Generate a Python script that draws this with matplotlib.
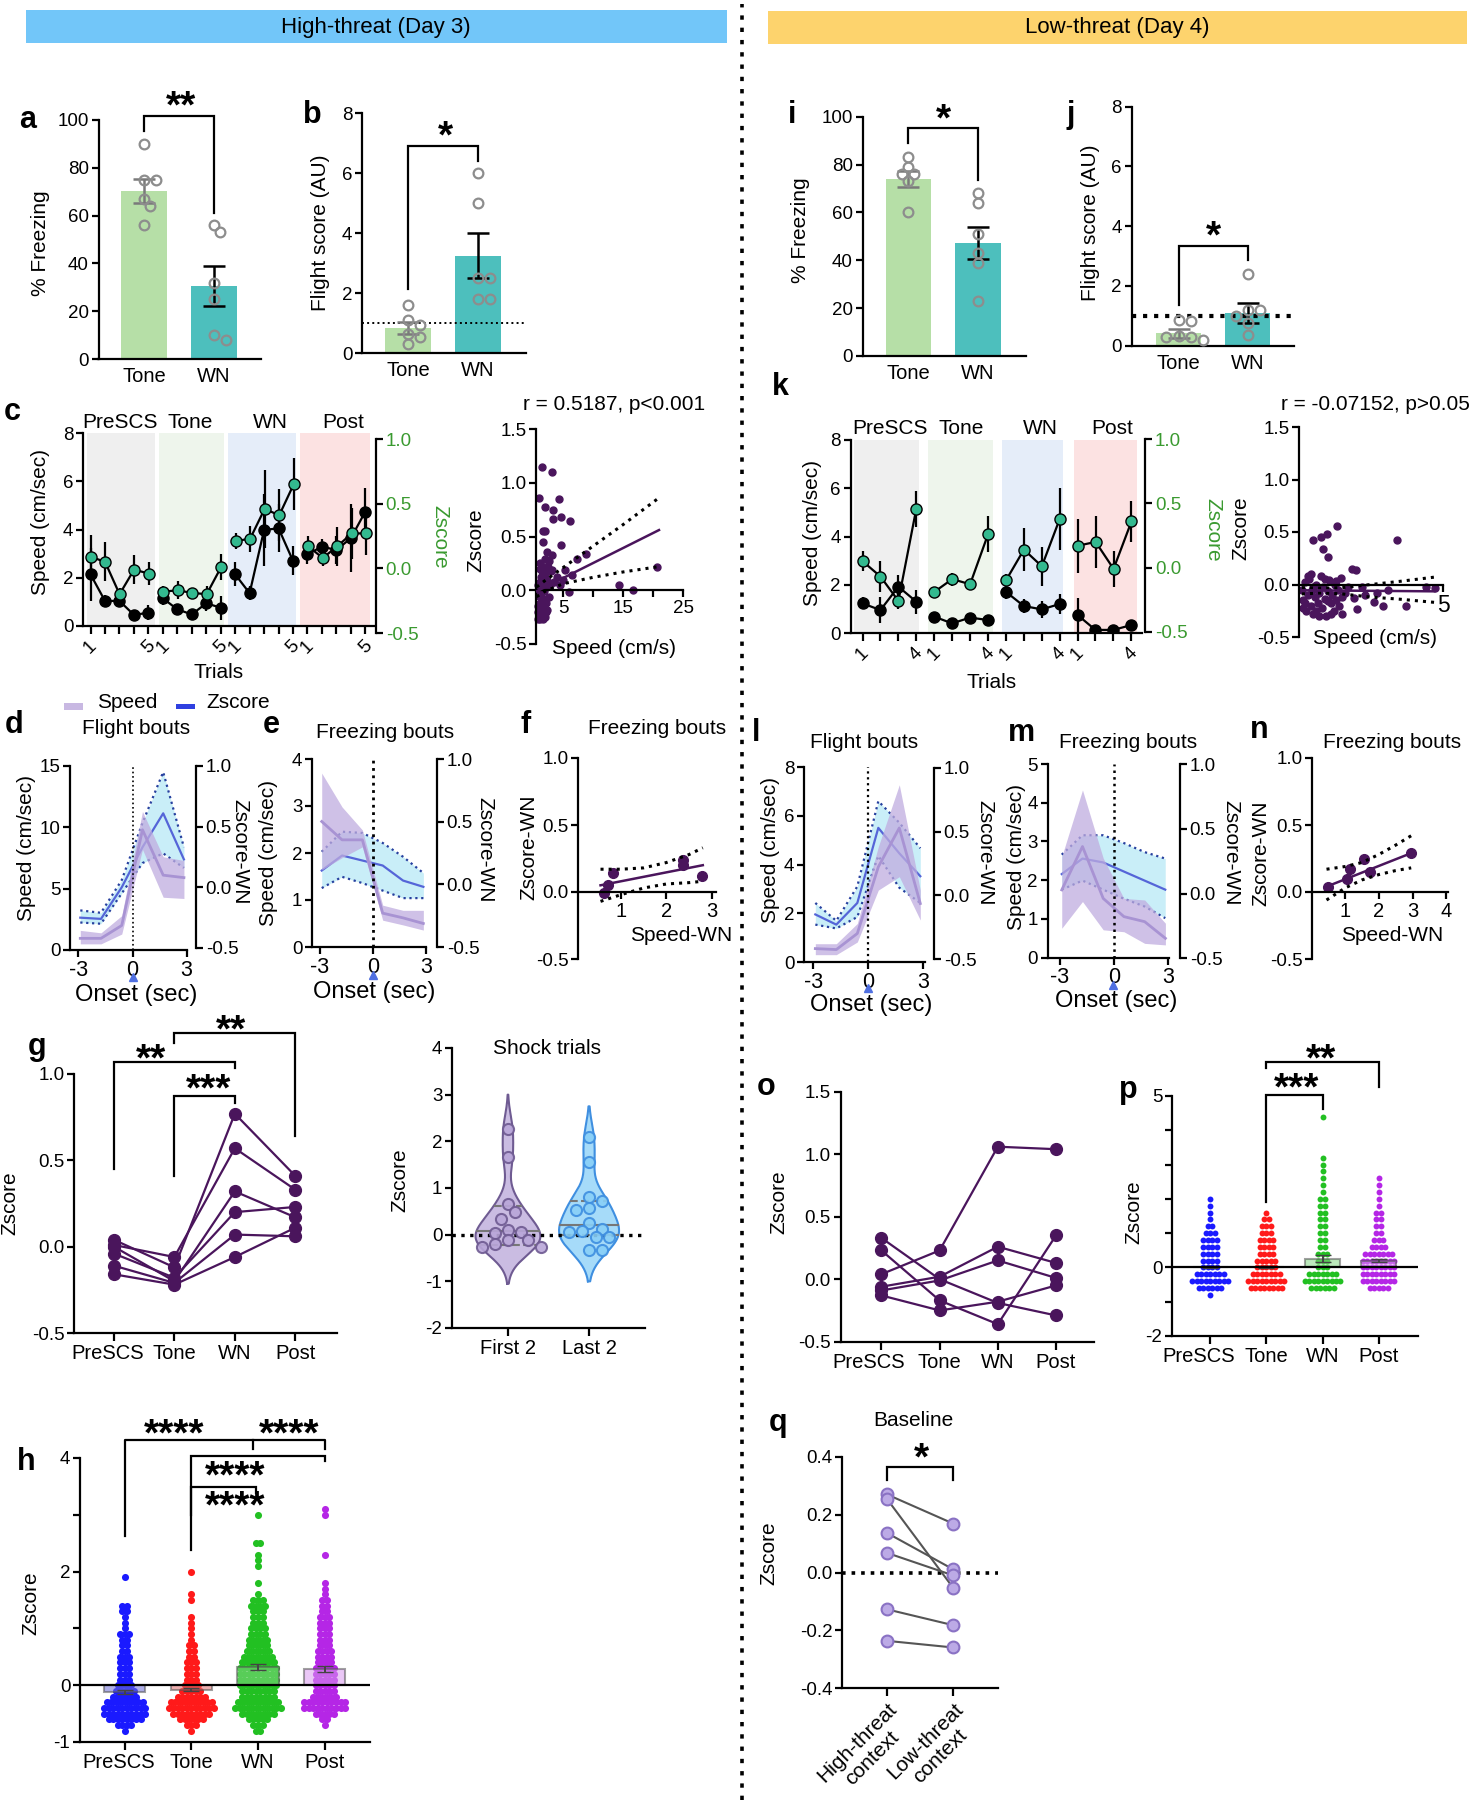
import numpy as np
import matplotlib
matplotlib.use('Agg')
import matplotlib.pyplot as plt
from matplotlib.patches import Rectangle
from matplotlib.lines import Line2D
import matplotlib.transforms as mtransforms

plt.rcParams['font.family'] = ['Liberation Sans', 'DejaVu Sans']
plt.rcParams['axes.unicode_minus'] = False

# ---------------- data ----------------
cats2 = ['Tone', 'WN']
cats4 = ['PreSCS', 'Tone', 'WN', 'Post']

# a / b  (high threat)
a_tone = [90, 75, 75, 67, 64, 56]
a_wn = [56, 53, 32, 25, 10, 8]
a_mean = [70.2, 30.5]
a_sem = [5.0, 8.3]
b_tone = [1.6, 1.1, 0.95, 0.65, 0.55, 0.3]
b_wn = [6.0, 5.0, 2.5, 2.5, 1.8, 1.8]
b_mean = [0.85, 3.25]
b_sem = [0.2, 0.75]

# i / j  (low threat)
i_tone = [83, 79, 76, 76, 73, 60]
i_wn = [68, 64, 51, 43, 39, 23]
i_mean = [74.0, 47.3]
i_sem = [3.3, 6.8]
j_tone = [0.85, 0.82, 0.32, 0.30, 0.28, 0.20]
j_wn = [2.39, 1.2, 1.2, 1.0, 0.75, 0.35]
j_mean = [0.41, 1.1]
j_sem = [0.15, 0.33]

# c : trials (5 per phase)
c_speed = [2.14, 1.04, 1.04, 0.46, 0.55, 1.15, 0.69, 0.48, 0.94, 0.76,
           2.14, 1.36, 3.98, 4.05, 2.70, 2.97, 3.29, 3.15, 3.64, 4.74]
c_speed_err = [1.1, 0.25, 0.25, 0.2, 0.3, 0.3, 0.2, 0.15, 0.3, 0.5,
               0.5, 0.3, 1.5, 1.0, 0.6, 0.4, 0.3, 0.6, 1.4, 1.0]
c_z = [0.09, 0.05, -0.20, -0.01, -0.04, -0.18, -0.17, -0.19, -0.20, 0.01,
       0.21, 0.23, 0.46, 0.41, 0.65, 0.17, 0.08, 0.17, 0.27, 0.27]
c_z_err = [0.17, 0.15, 0.05, 0.11, 0.09, 0.04, 0.07, 0.04, 0.06, 0.1,
           0.06, 0.1, 0.3, 0.2, 0.2, 0.08, 0.06, 0.15, 0.2, 0.17]

# k : trials (4 per phase)
k_speed = [1.24, 0.96, 1.93, 1.31, 0.69, 0.41, 0.65, 0.55,
           1.72, 1.13, 0.99, 1.21, 0.76, 0.14, 0.14, 0.34]
k_speed_err = [0.25, 0.55, 0.5, 0.5, 0.15, 0.1, 0.15, 0.1,
               0.3, 0.3, 0.35, 0.4, 0.7, 0.1, 0.1, 0.1]
k_z = [0.05, -0.07, -0.26, 0.46, -0.19, -0.09, -0.13, 0.26,
       -0.10, 0.14, 0.01, 0.38, 0.17, 0.20, -0.01, 0.36]
k_z_err = [0.08, 0.12, 0.06, 0.14, 0.04, 0.05, 0.04, 0.14,
           0.05, 0.17, 0.15, 0.24, 0.21, 0.2, 0.14, 0.16]

# c / k correlation scatter
c_sc_x = [1.45, 3.2, 1.05, 4.4, 2.0, 3.3, 4.6, 3.3, 6.2, 1.6, 2.0, 4.6, 1.6, 2.4, 3.2, 1.2, 2.0,
          7.3, 8.9, 3.2, 5.3, 6.5, 14.3, 16.7, 20.7, 6.0, 4.0, 4.5, 5.0, 2.7,
          0.9, 1.0, 1.1, 1.2, 1.3, 1.4, 1.5, 1.6, 1.8, 2.0, 2.2, 0.9, 1.1, 1.3, 1.5, 1.7,
          1.9, 2.1, 2.4, 1.0, 1.2, 1.4, 1.6, 1.8, 2.2, 2.6, 1.1, 1.3, 1.7, 2.0, 2.3, 2.8,
          3.0, 3.5, 1.2, 1.5, 2.5, 0.8, 0.8, 1.9]
c_sc_y = [1.15, 1.10, 0.86, 0.85, 0.77, 0.75, 0.68, 0.66, 0.645, 0.55, 0.55, 0.42, 0.45, 0.36, 0.33,
          0.25, 0.29, 0.29, 0.34, 0.19, 0.19, 0.14, 0.05, 0.0, 0.22, -0.02, 0.12, 0.05, 0.1, 0.27,
          -0.27, -0.25, -0.27, -0.22, -0.26, -0.20, -0.24, -0.27, -0.22, -0.25, -0.20, -0.15,
          -0.12, -0.17, -0.10, -0.14, -0.08, -0.12, -0.18, -0.05, 0.0, -0.03, 0.02, -0.01, 0.03,
          -0.06, 0.08, 0.12, 0.10, 0.15, 0.10, 0.05, 0.18, 0.08, 0.20, 0.18, 0.22, -0.20, 0.05, 0.22]
c_fit_x = [0.6, 21.0]
c_fit_y = [-0.01, 0.56]
c_ci_x = [0.6, 2, 5, 10, 15, 21]
c_ci_hi = [0.03, 0.09, 0.21, 0.41, 0.61, 0.86]
c_ci_lo = [-0.06, -0.01, 0.06, 0.12, 0.17, 0.22]

k_sc_x = [0.49, 0.75, 0.96, 1.32, 0.83, 0.99, 1.84, 1.98, 3.39, 4.71, 2.3, 2.6, 2.9, 3.1, 3.7, 4.4,
          2.0, 1.5, 2.2, 1.9, 2.7,
          0.1, 0.15, 0.2, 0.25, 0.3, 0.35, 0.4, 0.45, 0.5, 0.55, 0.6, 0.65, 0.7, 0.75, 0.8, 0.85,
          0.9, 0.95, 1.0, 1.05, 1.1, 1.15, 1.2, 1.25, 1.3, 1.35, 1.4, 1.45, 1.5, 1.6, 1.7, 0.2,
          0.3, 0.5, 0.6, 0.9, 1.1, 1.3, 0.4, 0.7, 1.0, 0.15]
k_sc_y = [0.42, 0.45, 0.48, 0.56, 0.34, 0.26, 0.15, 0.14, 0.42, -0.03, -0.10, -0.17, -0.20, -0.05,
          -0.20, -0.02, -0.23, -0.28, -0.02, -0.13, -0.08,
          -0.05, -0.15, 0.02, -0.25, -0.10, 0.05, -0.20, -0.05, -0.28, -0.12, 0.0, -0.18, -0.08,
          0.08, -0.22, -0.02, -0.14, -0.30, -0.06, 0.04, -0.18, -0.10, -0.25, 0.0, -0.15, -0.05,
          -0.20, 0.06, -0.12, -0.08, -0.02, -0.18, 0.08, -0.02, -0.25, 0.05, -0.28, 0.03, 0.10,
          -0.30, -0.16, -0.22]
k_fit_x = [0.1, 4.7]
k_fit_y = [-0.055, -0.065]
k_ci_x = [0.1, 0.8, 1.5, 2.5, 3.5, 4.7]
k_ci_hi = [-0.03, -0.035, -0.03, 0.0, 0.03, 0.07]
k_ci_lo = [-0.09, -0.08, -0.09, -0.12, -0.14, -0.17]

# d / e / l / m : peri-onset traces
bins = [-2.9, -1.75, -0.6, 0.55, 1.7, 2.85]
d_speed = [0.95, 0.95, 2.0, 9.8, 6.1, 5.9]
d_speed_lo = [0.5, 0.5, 1.3, 8.2, 4.3, 4.2]
d_speed_hi = [1.6, 1.4, 2.8, 11.3, 7.6, 7.3]
d_z = [-0.25, -0.26, 0.0, 0.33, 0.61, 0.23]
d_z_lo = [-0.29, -0.30, -0.05, 0.20, 0.28, 0.16]
d_z_hi = [-0.19, -0.21, 0.06, 0.53, 0.95, 0.33]

e_speed = [2.67, 2.28, 2.28, 0.72, 0.62, 0.5]
e_speed_lo = [1.64, 1.9, 2.13, 0.57, 0.47, 0.36]
e_speed_hi = [3.7, 2.98, 2.49, 0.89, 0.78, 0.78]
e_z = [0.11, 0.23, 0.19, 0.15, 0.03, -0.02]
e_z_lo = [-0.03, 0.06, 0.01, -0.05, -0.11, -0.11]
e_z_hi = [0.26, 0.42, 0.41, 0.33, 0.22, 0.09]

l_speed = [0.55, 0.51, 1.17, 3.9, 5.5, 2.4]
l_speed_lo = [0.3, 0.3, 0.82, 2.95, 3.5, 1.72]
l_speed_hi = [0.75, 0.75, 1.58, 4.73, 7.27, 2.95]
l_z = [-0.15, -0.23, -0.06, 0.53, 0.33, 0.15]
l_z_lo = [-0.23, -0.26, -0.17, 0.31, 0.06, -0.06]
l_z_hi = [-0.06, -0.2, 0.07, 0.74, 0.57, 0.37]

m_speed = [1.75, 2.87, 1.53, 1.06, 0.93, 0.5]
m_speed_lo = [0.76, 1.45, 0.72, 0.67, 0.37, 0.33]
m_speed_hi = [2.61, 4.33, 2.57, 1.53, 1.49, 0.89]
m_z = [0.15, 0.27, 0.24, 0.17, 0.10, 0.03]
m_z_lo = [0.03, 0.10, 0.03, -0.04, -0.10, -0.19]
m_z_hi = [0.30, 0.45, 0.45, 0.39, 0.32, 0.27]

# f / n : speed vs zscore (freezing bouts)
f_x = [0.62, 0.71, 0.82, 2.36, 2.36, 2.78]
f_y = [-0.01, 0.05, 0.14, 0.24, 0.20, 0.12]
f_fit_x = [0.55, 2.8]
f_fit_y = [0.05, 0.20]
f_ci_x = [0.55, 1.0, 1.5, 2.0, 2.5, 2.8]
f_ci_hi = [0.17, 0.17, 0.18, 0.22, 0.28, 0.33]
f_ci_lo = [-0.07, -0.02, 0.03, 0.06, 0.07, 0.08]

n_x = [0.48, 1.05, 1.15, 1.57, 1.75, 2.96]
n_y = [0.04, 0.10, 0.17, 0.25, 0.15, 0.29]
n_fit_x = [0.45, 2.96]
n_fit_y = [0.04, 0.29]
n_ci_x = [0.45, 1.0, 1.5, 2.0, 2.5, 2.96]
n_ci_hi = [0.17, 0.19, 0.22, 0.28, 0.35, 0.42]
n_ci_lo = [-0.06, 0.03, 0.09, 0.13, 0.16, 0.18]

# g / o : per-animal zscore across phases
g_subjects = [[0.04, -0.12, 0.77, 0.41],
              [0.01, -0.06, 0.57, 0.33],
              [0.00, -0.20, 0.32, 0.17],
              [-0.04, -0.18, 0.20, 0.23],
              [-0.11, -0.21, 0.07, 0.06],
              [-0.16, -0.22, -0.06, 0.11]]
o_subjects = [[0.04, 0.23, 1.06, 1.04],
              [0.33, 0.00, -0.19, -0.29],
              [0.23, -0.17, -0.36, 0.35],
              [-0.06, 0.02, 0.26, 0.13],
              [-0.09, -0.01, 0.15, 0.01],
              [-0.13, -0.25, -0.18, -0.05]]

# shock trials violin
v_first = [2.27, 1.67, 0.66, 0.48, 0.33, 0.10, 0.05, 0.03, -0.12, -0.12, -0.20, -0.27, -0.27]
v_last = [2.10, 1.55, 0.80, 0.72, 0.58, 0.53, 0.25, 0.12, 0.08, 0.05, -0.05, -0.05, -0.32, -0.32]
v_first_range = [-1.05, 3.0]
v_last_range = [-1.0, 2.75]
v_first_q = [0.08, -0.23, 0.62]
v_last_q = [0.20, 0.0, 0.72]

# h : all trials zscore (count of dots per 0.1 level)
h_levels = [-0.8, -0.7, -0.6, -0.5, -0.4, -0.3, -0.2, -0.1, 0.0, 0.1, 0.2, 0.3, 0.4, 0.5,
            0.6, 0.7, 0.8, 0.9, 1.0, 1.1, 1.2, 1.3, 1.4, 1.5, 1.6, 1.7, 1.8, 1.9, 2.0, 2.1,
            2.2, 2.3, 2.4, 2.5, 2.6, 2.7, 2.8, 2.9, 3.0, 3.1]
h_prescs = [1, 4, 8, 10, 10, 9, 6, 5, 4, 3, 3, 3, 3, 3, 2, 2, 2, 3, 1, 1, 1, 2, 2, 0, 0, 0,
            0, 1, 0, 0, 0, 0, 0, 0, 0, 0, 0, 0, 0, 0]
h_tone = [1, 3, 6, 9, 11, 10, 7, 5, 4, 3, 3, 3, 3, 2, 2, 2, 1, 1, 1, 1, 1, 0, 0, 1, 1, 0,
          0, 0, 1, 0, 0, 0, 0, 0, 0, 0, 0, 0, 0, 0]
h_wn = [2, 3, 5, 8, 11, 10, 8, 8, 9, 9, 9, 9, 8, 7, 6, 5, 5, 4, 4, 3, 3, 3, 4, 3, 1, 0,
        1, 0, 0, 1, 1, 1, 0, 2, 0, 0, 0, 0, 1, 0]
h_post = [0, 1, 2, 5, 10, 10, 6, 5, 5, 5, 5, 5, 4, 4, 4, 3, 3, 3, 3, 3, 3, 2, 2, 2, 1, 1,
          1, 0, 0, 0, 0, 1, 0, 0, 0, 0, 0, 0, 1, 1]
h_mean = [-0.12, -0.08, 0.32, 0.28]
h_sem = [0.03, 0.03, 0.05, 0.05]

# p : all trials zscore, low threat (count of dots per 0.2 level)
p_levels = [-0.8, -0.6, -0.4, -0.2, 0.0, 0.2, 0.4, 0.6, 0.8, 1.0, 1.2, 1.4, 1.6, 1.8, 2.0,
            2.2, 2.4, 2.6, 2.8, 3.0, 3.2, 3.4, 3.6, 3.8, 4.0, 4.2, 4.4]
p_prescs = [1, 6, 9, 7, 4, 4, 4, 4, 4, 3, 2, 1, 1, 1, 1, 0, 0, 0, 0, 0, 0, 0, 0, 0, 0, 0, 0]
p_tone = [0, 8, 9, 7, 5, 5, 4, 4, 4, 3, 3, 2, 1, 0, 0, 0, 0, 0, 0, 0, 0, 0, 0, 0, 0, 0, 0]
p_wn = [0, 6, 9, 7, 3, 3, 3, 2, 2, 2, 2, 2, 2, 2, 2, 1, 1, 1, 1, 1, 1, 0, 0, 0, 0, 0, 1]
p_post = [0, 5, 8, 8, 8, 8, 7, 4, 3, 2, 2, 2, 2, 1, 1, 1, 1, 1, 0, 0, 0, 0, 0, 0, 0, 0, 0]
p_mean = [0.02, 0.0, 0.25, 0.2]
p_sem = [0.03, 0.03, 0.1, 0.05]

# q : baseline
q_high = [0.27, 0.255, 0.137, 0.068, -0.127, -0.236]
q_low = [0.169, -0.053, 0.011, -0.010, -0.182, -0.259]

# ---------------- styling ----------------
PURPLE = '#4a155c'
TONE_BAR = '#b6dfa7'
WN_BAR = '#4dbfbd'
DOT_GRAY = '#8d8d8d'
TEAL = '#33b98f'
ZGREEN = '#3a9a30'
SPEED_BAND = '#c0acdf'
SPEED_LINE = '#a893d3'
Z_LINE = '#5565d8'
Z_EDGE = '#27409f'
Z_FILL = '#c9eef8'
GROUP_COLORS = ['#1a1aff', '#ff1a1a', '#22c022', '#b526e6']
BAR_COLORS = ['#6e6ed8', '#e07070', '#86d886', '#d999f0']

W, H = 1471, 1800
fig = plt.figure(figsize=(W / 100, H / 100), dpi=100)
TICK = 13.5
CAT = 14.5
LAB = 15


def px_ax(x0, y0, x1, y1, xlim, ylim):
    ax = fig.add_axes([x0 / W, 1 - y1 / H, (x1 - x0) / W, (y1 - y0) / H])
    ax.set_xlim(*xlim)
    ax.set_ylim(*ylim)
    ax.patch.set_visible(False)
    ax.spines['top'].set_visible(False)
    ax.spines['right'].set_visible(False)
    for s in ('left', 'bottom'):
        ax.spines[s].set_linewidth(1.6)
    ax.tick_params(width=1.6, length=5, labelsize=TICK, pad=2)
    return ax


def right_axis(ax, ticks, labels, color='black'):
    ax.spines['left'].set_visible(False)
    ax.spines['bottom'].set_visible(False)
    ax.spines['right'].set_visible(True)
    ax.spines['right'].set_linewidth(1.6)
    ax.yaxis.tick_right()
    ax.set_yticks(ticks, labels)
    ax.tick_params(axis='y', labelcolor=color)
    ax.set_xticks([])


def shift_first_label(ax, dx):
    lab = ax.get_xticklabels()[0]
    lab.set_transform(lab.get_transform() +
                      mtransforms.ScaledTranslation(dx / 100, 0, fig.dpi_scale_trans))


def ftext(x, y, s, **kw):
    kw.setdefault('ha', 'center')
    kw.setdefault('va', 'center')
    fig.text(x / W, 1 - y / H, s, **kw)


def letter(x, y, s):
    ftext(x, y, s, fontsize=22, fontweight='bold')


def bracket(ax, x0, x1, top, y0, y1):
    ax.plot([x0, x0, x1, x1], [y0, top, top, y1], color='black', lw=1.6,
            clip_on=False, solid_joinstyle='miter')


def stars(ax, x, y, s, **kw):
    tr = mtransforms.offset_copy(ax.transData, fig=fig, x=0, y=-9, units='dots')
    ax.text(x, y, s, transform=tr, ha='center', va='center', fontsize=28,
            fontweight='bold', clip_on=False, **kw)


def swarm_x(vals, xc, xscale, yscale, diam):
    placed, xs = [], []
    for v in vals:
        yp = v * yscale
        k = 0
        found = None
        while found is None:
            offs = [0.0] if k == 0 else [k * diam * 0.6, -k * diam * 0.6]
            for o in offs:
                if all((o - a) ** 2 + (yp - b) ** 2 >= 0.8 * diam ** 2 for a, b in placed):
                    found = o
                    break
            k += 1
        placed.append((found, yp))
        xs.append(xc + found / xscale)
    return xs


def row_swarm(levels, counts, xc, dx):
    xs, ys = [], []
    for lv, n in zip(levels, counts):
        for k in range(n):
            xs.append(xc + (k - (n - 1) / 2) * dx)
            ys.append(lv)
    return xs, ys


def bar_panel(ax, tone, wn, mean, sem, xscale, yscale):
    ax.bar([0, 1], mean, width=0.66, color=[TONE_BAR, WN_BAR], zorder=1)
    ax.errorbar([0], [mean[0]], yerr=[sem[0]], fmt='none', ecolor='#7a7a7a',
                elinewidth=1.8, capsize=8, capthick=1.8, zorder=3)
    ax.errorbar([1], [mean[1]], yerr=[sem[1]], fmt='none', ecolor='black',
                elinewidth=1.8, capsize=8, capthick=1.8, zorder=3)
    for i, vals in enumerate([tone, wn]):
        xs = swarm_x(vals, i, xscale, yscale, 10)
        ax.plot(xs, vals, 'o', mfc='none', mec=DOT_GRAY, mew=1.6, ms=7,
                zorder=4, clip_on=False)
    ax.set_xticks([0, 1], cats2, fontsize=CAT)
    ax.tick_params(axis='x', length=0, pad=6)


def trial_panel(boxl, boxr, xlim_l, xlim_r, n, speed, speed_err, z, z_err, spans):
    axl = px_ax(*boxl, xlim_l, (0, 8))
    axr = px_ax(*boxr, xlim_r, (-0.5, 1.0))
    right_axis(axr, [-0.5, 0.0, 0.5, 1.0], ['-0.5', '0.0', '0.5', '1.0'], ZGREEN)
    for (lo, hi), col in zip(spans, ['#efefef', '#eef5ec', '#e5edf9', '#fce2e2']):
        axl.axvspan(lo, hi, color=col, lw=0, zorder=0)
    for g in range(4):
        idx = list(range(g * n, g * n + n))
        axl.errorbar(idx, [speed[i] for i in idx], yerr=[speed_err[i] for i in idx],
                     fmt='-o', color='black', ms=8, lw=1.6, elinewidth=1.6, capsize=0, zorder=3)
        axr.errorbar(idx, [z[i] for i in idx], yerr=[z_err[i] for i in idx],
                     fmt='-o', color='black', mfc=TEAL, mec='black', mew=1.0, ms=8,
                     lw=1.6, elinewidth=1.6, capsize=0, zorder=3)
    labels = [''] * (4 * n)
    for g in range(4):
        labels[g * n] = '1'
        labels[g * n + n - 1] = str(n)
    axl.set_xticks(range(4 * n), labels, rotation=45, fontsize=TICK)
    axl.tick_params(axis='x', length=6)
    axl.set_yticks([0, 2, 4, 6, 8], ['0', '2', '4', '6', '8'])
    return axl, axr


def scatter_panel(ax, xs, ys, fx, fy, cx, chi, clo, ms=5):
    ax.spines['bottom'].set_position(('data', 0))
    ax.plot(xs, ys, 'o', color=PURPLE, ms=ms, zorder=2, clip_on=False)
    ax.plot(cx, chi, ls=':', color='black', lw=2.2, zorder=3)
    ax.plot(cx, clo, ls=':', color='black', lw=2.2, zorder=3)
    ax.plot(fx, fy, color=PURPLE, lw=1.8, zorder=3)


def bout_panel(boxl, boxr, xlim_l, xlim_r, ylim, yt, sp, sp_lo, sp_hi, z, z_lo, z_hi, vlw, tri):
    axl = px_ax(*boxl, xlim_l, ylim)
    axr = px_ax(*boxr, xlim_r, (-0.5, 1.0))
    right_axis(axr, [-0.5, 0.0, 0.5, 1.0], ['-0.5', '0.0', '0.5', '1.0'])
    axr.fill_between(bins, z_lo, z_hi, color=Z_FILL, lw=0, zorder=1)
    axr.plot(bins, z_hi, ls=':', color=Z_EDGE, lw=1.6, zorder=2)
    axr.plot(bins, z_lo, ls=':', color=Z_EDGE, lw=1.6, zorder=2)
    axr.plot(bins, z, color=Z_LINE, lw=1.6, zorder=3)
    axl.fill_between(bins, sp_lo, sp_hi, color=SPEED_BAND, alpha=0.75, lw=0, zorder=1)
    axl.plot(bins, sp, color=SPEED_LINE, lw=2.0, zorder=2)
    axl.axvline(0, ls=':', color='black', lw=vlw, zorder=4)
    axl.set_zorder(axr.get_zorder() + 1)
    axl.set_xticks([-3, 0, 3], ['-3', '0', '3'], fontsize=CAT + 1)
    axl.set_yticks(yt, [str(v) for v in yt])
    fig.add_artist(Line2D([tri[0] / W], [1 - tri[1] / H], marker='^', color='#4f6fe0',
                          ms=6, lw=0, transform=fig.transFigure))
    return axl, axr


def swarm_bar_panel(ax, levels, groups, means, sems, dx, s):
    for i, (cnt, col) in enumerate(zip(groups, GROUP_COLORS)):
        xs, ys = row_swarm(levels, cnt, i, dx)
        ax.scatter(xs, ys, s=s, color=col, lw=0, zorder=2, clip_on=False)
    ax.bar(range(4), means, width=0.62, color=BAR_COLORS, alpha=0.55,
           edgecolor='#555555', lw=1.5, zorder=3)
    ax.errorbar(range(4), means, yerr=sems, fmt='none', ecolor='#444444',
                elinewidth=1.4, capsize=6, zorder=4)
    ax.axhline(0, color='black', lw=1.6, zorder=5)
    ax.set_xticks(range(4), cats4, fontsize=CAT)
    ax.tick_params(axis='x', length=6)


def violin(ax, vals, xc, rng, maxw, face, edge, qs):
    grid = np.linspace(rng[0], rng[1], 300)
    v = np.asarray(vals)[:, None]
    dens = np.exp(-0.5 * ((grid[None, :] - v) / 0.33) ** 2).sum(axis=0)
    hw = dens / dens.max() * maxw
    ax.fill_betweenx(grid, xc - hw, xc + hw, color=face, alpha=0.75, lw=0, zorder=1)
    ax.plot(np.r_[xc - hw, (xc + hw)[::-1], xc - hw[0]],
            np.r_[grid, grid[::-1], grid[0]], color=edge, lw=1.5, zorder=2)
    for q, ls in zip(qs, ['-', '--', '--']):
        w = np.interp(q, grid, hw)
        ax.plot([xc - w, xc + w], [q, q], color='#777777', lw=1.5, ls=ls, zorder=2)
    xs = swarm_x(vals, xc, 81, 46.8, 11)
    ax.plot(xs, vals, 'o', ms=8, mfc=face, mec=edge, mew=1.5, alpha=0.9, zorder=4)


# ---------------- header ----------------
fig.add_artist(Rectangle((26 / W, 1 - 43 / H), (727 - 26) / W, 33 / H,
                         transform=fig.transFigure, color='#72c6f9', lw=0))
fig.add_artist(Rectangle((768 / W, 1 - 44 / H), (1467 - 768) / W, 33 / H,
                         transform=fig.transFigure, color='#fdd36d', lw=0))
ftext(376, 27, 'High-threat (Day 3)', fontsize=16)
ftext(1117, 28, 'Low-threat (Day 4)', fontsize=16)
fig.add_artist(Line2D([742 / W, 742 / W], [0.0, 1 - 4 / H], transform=fig.transFigure,
                      color='black', lw=2.6, dashes=(1.2, 2.2)))

# ---------------- a ----------------
ax = px_ax(98.5, 120, 261, 359, (-0.65, 1.67), (0, 100))
bar_panel(ax, a_tone, a_wn, a_mean, a_sem, 70, 2.39)
ax.set_yticks([0, 20, 40, 60, 80, 100], ['0', '20', '40', '60', '80', '100'])
bracket(ax, 0, 1, 101.5, 95.5, 61)
stars(ax, 0.53, 109, '**')
letter(28, 120, 'a')
ftext(40, 243, '% Freezing', fontsize=LAB, rotation=90)

# ---------------- b ----------------
ax = px_ax(362, 113, 526, 353, (-0.66, 1.69), (0, 8))
ax.axhline(1.0, ls=':', color='black', lw=1.4, zorder=2)
bar_panel(ax, b_tone, b_wn, b_mean, b_sem, 70, 30)
ax.set_yticks([0, 2, 4, 6, 8], ['0', '2', '4', '6', '8'])
bracket(ax, 0, 1, 6.9, 2.15, 6.4)
stars(ax, 0.53, 7.5, '*')
letter(312, 115, 'b')
ftext(320, 233, 'Flight score (AU)', fontsize=LAB, rotation=90)

# ---------------- c ----------------
c_spans = [(-0.25, 4.45), (4.73, 9.24), (9.5, 14.2), (14.5, 19.3)]
trial_panel((83, 433, 374, 626), (83, 439, 376, 633), (-0.52, 19.6), (-0.52, 19.67),
            5, c_speed, c_speed_err, c_z, c_z_err, c_spans)
for name, x in zip(cats4, [120, 190, 270, 343]):
    ftext(x, 422, name, fontsize=LAB)
letter(12, 412, 'c')
ftext(41, 522, 'Speed (cm/sec)', fontsize=LAB, rotation=90)
ftext(440, 537, 'Zscore', fontsize=LAB, rotation=270, color=ZGREEN)
ftext(219, 673, 'Trials', fontsize=LAB)

ax = px_ax(536, 429, 683, 644, (0.5, 25), (-0.5, 1.5))
scatter_panel(ax, c_sc_x, c_sc_y, c_fit_x, c_fit_y, c_ci_x, c_ci_hi, c_ci_lo)
ax.set_xticks([5, 10, 15, 20, 25], ['5', '', '15', '', '25'])
ax.set_yticks([-0.5, 0, 0.5, 1.0, 1.5], ['-0.5', '0.0', '0.5', '1.0', '1.5'])
ftext(614, 404, 'r = 0.5187, p<0.001', fontsize=LAB)
ftext(614, 649, 'Speed (cm/s)', fontsize=LAB)
ftext(476, 540, 'Zscore', fontsize=LAB, rotation=90)

# legend
fig.add_artist(Rectangle((64 / W, 1 - 710 / H), 19 / W, 7 / H, transform=fig.transFigure,
                         color='#c8b8e2', lw=0))
fig.add_artist(Rectangle((176 / W, 1 - 709 / H), 19 / W, 5 / H, transform=fig.transFigure,
                         color='#2f40e0', lw=0))
ftext(97, 703, 'Speed', fontsize=LAB, ha='left')
ftext(206, 703, 'Zscore', fontsize=LAB, ha='left')

# ---------------- d / e ----------------
bout_panel((70, 766, 187, 950), (70, 766, 196, 948), (-3.47, 3.02), (-3.47, 3.52), (0, 15),
           [0, 5, 10, 15], d_speed, d_speed_lo, d_speed_hi, d_z, d_z_lo, d_z_hi, 1.2, (133, 977))
letter(14, 725, 'd')
ftext(136, 729, 'Flight bouts', fontsize=LAB)
ftext(27, 848, 'Speed (cm/sec)', fontsize=LAB, rotation=90)
ftext(240, 852, 'Zscore-WN', fontsize=LAB, rotation=270)
ftext(136, 995, 'Onset (sec)', fontsize=17)

bout_panel((312, 759, 426, 947), (312, 759, 437, 947), (-3.45, 3.0), (-3.45, 3.62), (0, 4),
           [0, 1, 2, 3, 4], e_speed, e_speed_lo, e_speed_hi, e_z, e_z_lo, e_z_hi, 2.0, (373, 975))
letter(271, 725, 'e')
ftext(385, 732, 'Freezing bouts', fontsize=LAB)
ftext(268, 853, 'Speed (cm/sec)', fontsize=LAB, rotation=90)
ftext(485, 850, 'Zscore-WN', fontsize=LAB, rotation=270)
ftext(374, 992, 'Onset (sec)', fontsize=17)

# ---------------- f ----------------
ax = px_ax(578, 758, 716, 959, (0.055, 3.09), (-0.5, 1.0))
scatter_panel(ax, f_x, f_y, f_fit_x, f_fit_y, f_ci_x, f_ci_hi, f_ci_lo, ms=7)
ax.set_xticks([1, 2, 3], ['1', '2', '3'], fontsize=CAT)
ax.set_yticks([-0.5, 0, 0.5, 1.0], ['-0.5', '0.0', '0.5', '1.0'])
letter(526, 725, 'f')
ftext(657, 728, 'Freezing bouts', fontsize=LAB)
ftext(681, 935, 'Speed-WN', fontsize=LAB)
ftext(529, 847, 'Zscore-WN', fontsize=LAB, rotation=90)

# ---------------- g ----------------
ax = px_ax(74, 1074, 337, 1333, (-0.66, 3.69), (-0.5, 1.0))
for row in g_subjects:
    ax.plot(range(4), row, '-o', color=PURPLE, lw=1.6, ms=8.5, clip_on=False, zorder=3)
ax.set_xticks(range(4), cats4, fontsize=CAT)
ax.tick_params(axis='x', length=6)
shift_first_label(ax, -6)
ax.set_yticks([-0.5, 0, 0.5, 1.0], ['-0.5', '0.0', '0.5', '1.0'])
bracket(ax, 0, 2, 1.067, 0.45, 1.036)
bracket(ax, 1, 3, 1.24, 1.18, 0.64)
bracket(ax, 1, 2, 0.87, 0.41, 0.83)
stars(ax, 0.61, 1.13, '**')
stars(ax, 1.93, 1.30, '**')
stars(ax, 1.57, 0.955, '***')
letter(37, 1047, 'g')
ftext(10, 1203, 'Zscore', fontsize=LAB, rotation=90)

# shock trials violin
ax = px_ax(452, 1048, 645, 1328, (-0.69, 1.69), (-2, 4))
ax.axhline(0, ls=':', color='black', lw=2.4, zorder=3)
violin(ax, v_first, 0, v_first_range, 0.40, '#b9a6d9', '#6f5b92', v_first_q)
violin(ax, v_last, 1, v_last_range, 0.37, '#88cff7', '#3f8fe0', v_last_q)
ax.set_xticks([0, 1], ['First 2', 'Last 2'], fontsize=CAT)
ax.tick_params(axis='x', length=6)
ax.set_yticks([-2, -1, 0, 1, 2, 3, 4], ['-2', '-1', '0', '1', '2', '3', '4'])
ftext(547, 1048, 'Shock trials', fontsize=LAB)
ftext(400, 1180, 'Zscore', fontsize=LAB, rotation=90)

# ---------------- h ----------------
ax = px_ax(80, 1458, 370, 1742, (-0.67, 3.68), (-1, 4))
swarm_bar_panel(ax, h_levels, [h_prescs, h_tone, h_wn, h_post], h_mean, h_sem, 0.068, 26)
shift_first_label(ax, -6)
ax.set_yticks([-1, 0, 1, 2, 3, 4], ['-1', '0', '', '2', '', '4'])
ax.plot([0, 0, 3, 3], [2.62, 4.32, 4.32, 4.16], color='black', lw=1.6, clip_on=False)
ax.plot([1.93, 1.93], [4.32, 4.16], color='black', lw=1.6, clip_on=False)
bracket(ax, 1, 3, 4.04, 2.38, 3.94)
bracket(ax, 1, 1.97, 3.49, 3.0, 3.38)
stars(ax, 0.74, 4.55, '****')
stars(ax, 2.47, 4.55, '****')
# the two stacked Tone comparisons, set as one two-line label
stars(ax, 1.65, 3.555, '****\n****', linespacing=0.78)
letter(26, 1462, 'h')
ftext(31, 1603, 'Zscore', fontsize=LAB, rotation=90)

# ---------------- i / j ----------------
ax = px_ax(862.6, 116.7, 1026, 356, (-0.66, 1.69), (0, 100))
bar_panel(ax, i_tone, i_wn, i_mean, i_sem, 69.5, 2.39)
ax.set_yticks([0, 20, 40, 60, 80, 100], ['0', '20', '40', '60', '80', '100'])
bracket(ax, 0, 1, 95.1, 89.1, 73.5)
stars(ax, 0.51, 102, '*')
letter(792, 115, 'i')
ftext(800, 230, '% Freezing', fontsize=LAB, rotation=90)

ax = px_ax(1131.5, 106.7, 1294, 345.7, (-0.68, 1.67), (0, 8))
ax.axhline(1.0, ls=':', color='black', lw=3.0, zorder=2)
bar_panel(ax, j_tone, j_wn, j_mean, j_sem, 69, 29.9)
ax.set_yticks([0, 2, 4, 6, 8], ['0', '2', '4', '6', '8'])
bracket(ax, 0, 1, 3.35, 1.36, 2.87)
stars(ax, 0.5, 3.93, '*')
letter(1071, 115, 'j')
ftext(1090, 223, 'Flight score (AU)', fontsize=LAB, rotation=90)

# ---------------- k ----------------
k_spans = [(-0.48, 3.18), (3.63, 7.27), (7.81, 11.2), (11.8, 15.3)]
trial_panel((850.7, 440, 1142, 633.3), (850.7, 439.3, 1145.3, 631.7), (-0.66, 15.6),
            (-0.66, 15.77), 4, k_speed, k_speed_err, k_z, k_z_err, k_spans)
for name, x in zip(cats4, [890, 961, 1040, 1112]):
    ftext(x, 429, name, fontsize=LAB)
letter(780, 387, 'k')
ftext(812, 533, 'Speed (cm/sec)', fontsize=LAB, rotation=90)
ftext(1213, 530, 'Zscore', fontsize=LAB, rotation=270, color=ZGREEN)
ftext(992, 682, 'Trials', fontsize=LAB)

ax = px_ax(1299, 427, 1443, 637, (0, 5), (-0.5, 1.5))
scatter_panel(ax, k_sc_x, k_sc_y, k_fit_x, k_fit_y, k_ci_x, k_ci_hi, k_ci_lo)
ax.set_xticks([5], ['5'], fontsize=CAT + 2)
ax.set_yticks([-0.5, 0, 0.5, 1.0, 1.5], ['-0.5', '0.0', '0.5', '1.0', '1.5'])
ftext(1375, 404, 'r = -0.07152, p>0.05', fontsize=LAB)
ftext(1375, 638, 'Speed (cm/s)', fontsize=LAB)
ftext(1241, 528, 'Zscore', fontsize=LAB, rotation=90)

# ---------------- l / m ----------------
bout_panel((804, 767, 924.5, 962), (804, 768, 934, 959), (-3.52, 3.08), (-3.52, 3.6), (0, 8),
           [0, 2, 4, 6, 8], l_speed, l_speed_lo, l_speed_hi, l_z, l_z_lo, l_z_hi, 1.6, (868, 988))
letter(756, 733, 'l')
ftext(864, 742, 'Flight bouts', fontsize=LAB)
ftext(770, 850, 'Speed (cm/sec)', fontsize=LAB, rotation=90)
ftext(985, 853, 'Zscore-WN', fontsize=LAB, rotation=270)
ftext(871, 1005, 'Onset (sec)', fontsize=17)

bout_panel((1047.7, 764, 1169, 957.7), (1047.7, 764, 1180, 958.3), (-3.68, 3.05), (-3.68, 3.67),
           (0, 5), [0, 1, 2, 3, 4, 5], m_speed, m_speed_lo, m_speed_hi, m_z, m_z_lo, m_z_hi,
           1.8, (1113, 985))
letter(1021, 733, 'm')
ftext(1128, 742, 'Freezing bouts', fontsize=LAB)
ftext(1016, 857, 'Speed (cm/sec)', fontsize=LAB, rotation=90)
ftext(1231, 853, 'Zscore-WN', fontsize=LAB, rotation=270)
ftext(1116, 1001, 'Onset (sec)', fontsize=17)

# ---------------- n ----------------
ax = px_ax(1312, 758, 1448, 959, (0.02, 4.05), (-0.5, 1.0))
scatter_panel(ax, n_x, n_y, n_fit_x, n_fit_y, n_ci_x, n_ci_hi, n_ci_lo, ms=7)
ax.set_xticks([1, 2, 3, 4], ['1', '2', '3', '4'], fontsize=CAT)
ax.set_yticks([-0.5, 0, 0.5, 1.0], ['-0.5', '0.0', '0.5', '1.0'])
letter(1259, 730, 'n')
ftext(1392, 742, 'Freezing bouts', fontsize=LAB)
ftext(1392, 935, 'Speed-WN', fontsize=LAB)
ftext(1261, 853, 'Zscore-WN', fontsize=LAB, rotation=90)

# ---------------- o ----------------
ax = px_ax(840.7, 1091.7, 1094.4, 1341.7, (-0.7, 3.66), (-0.5, 1.5))
for row in o_subjects:
    ax.plot(range(4), row, '-o', color=PURPLE, lw=1.6, ms=8.5, clip_on=False, zorder=3)
ax.set_xticks(range(4), cats4, fontsize=CAT)
ax.tick_params(axis='x', length=6)
shift_first_label(ax, -13)
ax.set_yticks([-0.5, 0, 0.5, 1.0, 1.5], ['-0.5', '0.0', '0.5', '1.0', '1.5'])
letter(766, 1087, 'o')
ftext(779, 1202, 'Zscore', fontsize=LAB, rotation=90)

# ---------------- p ----------------
ax = px_ax(1172, 1096, 1418, 1336, (-0.68, 3.7), (-2, 5))
swarm_bar_panel(ax, p_levels, [p_prescs, p_tone, p_wn, p_post], p_mean, p_sem, 0.08, 18)
shift_first_label(ax, -12)
ax.set_yticks([-2, -1, 0, 1, 2, 3, 4, 5], ['-2', '', '0', '', '', '', '', '5'])
bracket(ax, 1, 2, 5.02, 1.91, 4.63)
bracket(ax, 1, 3, 6.0, 5.83, 5.25)
stars(ax, 1.54, 5.44, '***')
stars(ax, 1.98, 6.31, '**')
letter(1128, 1090, 'p')
ftext(1134, 1212, 'Zscore', fontsize=LAB, rotation=90)

# ---------------- q ----------------
ax = px_ax(842.3, 1456.7, 998.3, 1688.3, (-0.67, 1.68), (-0.4, 0.4))
ax.axhline(0, ls=':', color='black', lw=2.6, zorder=1)
for hv, lv in zip(q_high, q_low):
    ax.plot([0, 1], [hv, lv], color='#555555', lw=1.5, zorder=2)
ax.plot([0] * len(q_high), q_high, 'o', ms=8.5, mfc='#bcaae6', mec='#8a72c4', mew=1.5, zorder=3)
ax.plot([1] * len(q_low), q_low, 'o', ms=8.5, mfc='#bcaae6', mec='#8a72c4', mew=1.5, zorder=3)
ax.set_xticks([0, 1], ['High-threat\ncontext', 'Low-threat\ncontext'], rotation=45,
              ha='right', rotation_mode='anchor', multialignment='center', fontsize=LAB)
ax.tick_params(axis='x', length=6)
ax.set_yticks([-0.4, -0.2, 0, 0.2, 0.4], ['-0.4', '-0.2', '0.0', '0.2', '0.4'])
bracket(ax, 0, 1, 0.365, 0.32, 0.32)
stars(ax, 0.52, 0.42, '*')
letter(778, 1423, 'q')
ftext(913, 1421, 'Baseline', fontsize=LAB)
ftext(769, 1553, 'Zscore', fontsize=LAB, rotation=90)

fig.savefig('out.png', dpi=100, facecolor='white')
